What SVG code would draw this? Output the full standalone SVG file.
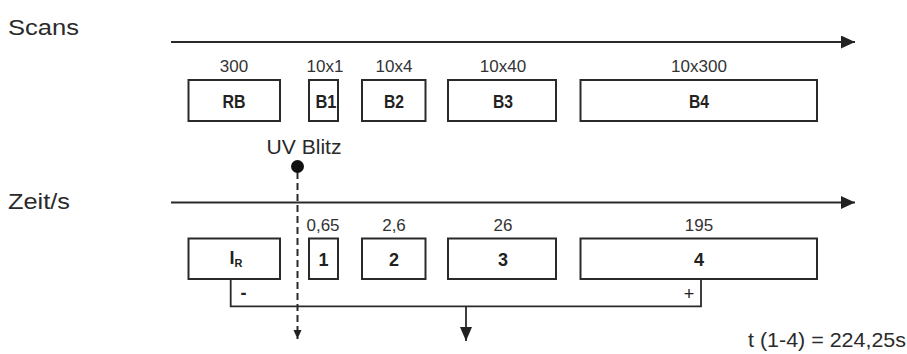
<svg xmlns="http://www.w3.org/2000/svg" width="907" height="354" viewBox="0 0 907 354">
  <style>
    .box { fill: #ffffff; stroke: #2a2a2a; stroke-width: 2; }
    .axis { fill: none; stroke: #2a2a2a; stroke-width: 2; }
    .wire { fill: none; stroke: #2a2a2a; stroke-width: 1.8; }
    .dash { fill: none; stroke: #2a2a2a; stroke-width: 2; stroke-dasharray: 7 4; }
    .title { font-family: "Liberation Sans", Arial, sans-serif; font-size: 22px; fill: #2a2a2a; }
    .num { font-family: "Liberation Sans", Arial, sans-serif; font-size: 17px; fill: #333333; text-anchor: middle; }
    .lbl { font-family: "Liberation Sans", Arial, sans-serif; font-size: 18px; font-weight: bold; fill: #222222; text-anchor: middle; }
    .sign { font-family: "Liberation Sans", Arial, sans-serif; font-size: 18px; fill: #222222; text-anchor: middle; }
  </style>
  <defs>
    <marker id="axisHead" markerUnits="userSpaceOnUse" markerWidth="16" markerHeight="14" refX="14" refY="6.5" orient="auto">
      <path d="M0,0 L14,6.5 L0,13 Z" fill="#222222"/>
    </marker>
    <marker id="smallHead" markerUnits="userSpaceOnUse" markerWidth="10" markerHeight="10" refX="9" refY="4" orient="auto">
      <path d="M0,0 L9,4 L0,8 Z" fill="#222222"/>
    </marker>
    <marker id="midHead" markerUnits="userSpaceOnUse" markerWidth="16" markerHeight="14" refX="14" refY="6" orient="auto">
      <path d="M0,0 L14,6 L0,12 Z" fill="#222222"/>
    </marker>
  </defs>

  <!-- row titles -->
  <text class="title" x="8" y="35" textLength="71" lengthAdjust="spacingAndGlyphs">Scans</text>
  <text class="title" x="8" y="208.5" textLength="62" lengthAdjust="spacingAndGlyphs">Zeit/s</text>

  <!-- connectors: axes, flash marker line, difference bracket -->
  <g id="connectors">
    <line class="axis" x1="171" y1="42" x2="855" y2="42" marker-end="url(#axisHead)"/>
    <line class="axis" x1="171" y1="202.5" x2="855" y2="202.5" marker-end="url(#axisHead)"/>
    <line class="dash" x1="297.5" y1="172" x2="297.5" y2="339" marker-end="url(#smallHead)"/>
    <polyline class="wire" points="230.7,279 230.7,306.3 701,306.3 701,279"/>
    <line class="wire" x1="466" y1="306.3" x2="466" y2="341" marker-end="url(#midHead)"/>
  </g>

  <!-- scan blocks -->
  <g id="scan-RB">
    <rect class="box" x="188.5" y="80" width="91.5" height="41"/>
    <text class="num" x="234" y="72">300</text>
    <text class="lbl" x="234" y="107.5" textLength="23" lengthAdjust="spacingAndGlyphs">RB</text>
  </g>
  <g id="scan-B1">
    <rect class="box" x="309" y="80" width="29" height="41"/>
    <text class="num" x="325" y="72">10x1</text>
    <text class="lbl" x="326" y="107.5" textLength="21" lengthAdjust="spacingAndGlyphs">B1</text>
  </g>
  <g id="scan-B2">
    <rect class="box" x="362" y="80" width="63.5" height="41"/>
    <text class="num" x="394" y="72">10x4</text>
    <text class="lbl" x="394" y="107.5" textLength="20" lengthAdjust="spacingAndGlyphs">B2</text>
  </g>
  <g id="scan-B3">
    <rect class="box" x="448" y="80" width="108" height="41"/>
    <text class="num" x="503" y="72">10x40</text>
    <text class="lbl" x="503" y="107.5" textLength="20" lengthAdjust="spacingAndGlyphs">B3</text>
  </g>
  <g id="scan-B4">
    <rect class="box" x="580.5" y="80" width="236.5" height="41"/>
    <text class="num" x="699" y="72">10x300</text>
    <text class="lbl" x="699" y="107.5" textLength="20" lengthAdjust="spacingAndGlyphs">B4</text>
  </g>

  <!-- UV flash event -->
  <g id="uv-flash">
    <text class="title" x="266.5" y="154" style="font-size:20px" textLength="75" lengthAdjust="spacingAndGlyphs">UV Blitz</text>
    <circle cx="297.5" cy="166.5" r="6.5" fill="#111111"/>
  </g>

  <!-- time blocks -->
  <g id="time-IR">
    <rect class="box" x="188.5" y="238.5" width="91.5" height="40.5"/>
    <text x="229.5" y="263.5" font-family="Liberation Sans, Arial, sans-serif" font-weight="bold" font-size="18" fill="#222222">I<tspan font-size="11" dy="3">R</tspan></text>
  </g>
  <g id="time-1">
    <rect class="box" x="309" y="238.5" width="29" height="40.5"/>
    <text class="num" x="323" y="231">0,65</text>
    <text class="lbl" x="323.5" y="266">1</text>
  </g>
  <g id="time-2">
    <rect class="box" x="362" y="238.5" width="63.5" height="40.5"/>
    <text class="num" x="394" y="231">2,6</text>
    <text class="lbl" x="394" y="266">2</text>
  </g>
  <g id="time-3">
    <rect class="box" x="448" y="238.5" width="108" height="40.5"/>
    <text class="num" x="503" y="231">26</text>
    <text class="lbl" x="503" y="266">3</text>
  </g>
  <g id="time-4">
    <rect class="box" x="580.5" y="238.5" width="236.5" height="40.5"/>
    <text class="num" x="699" y="231">195</text>
    <text class="lbl" x="699" y="266">4</text>
  </g>

  <!-- bracket signs -->
  <text class="sign" x="243.5" y="299" font-weight="bold">-</text>
  <text class="sign" x="689" y="299.5">+</text>

  <!-- total duration -->
  <text class="title" x="748" y="346.5" style="font-size:21px" textLength="158" lengthAdjust="spacingAndGlyphs">t (1-4) = 224,25s</text>
</svg>
